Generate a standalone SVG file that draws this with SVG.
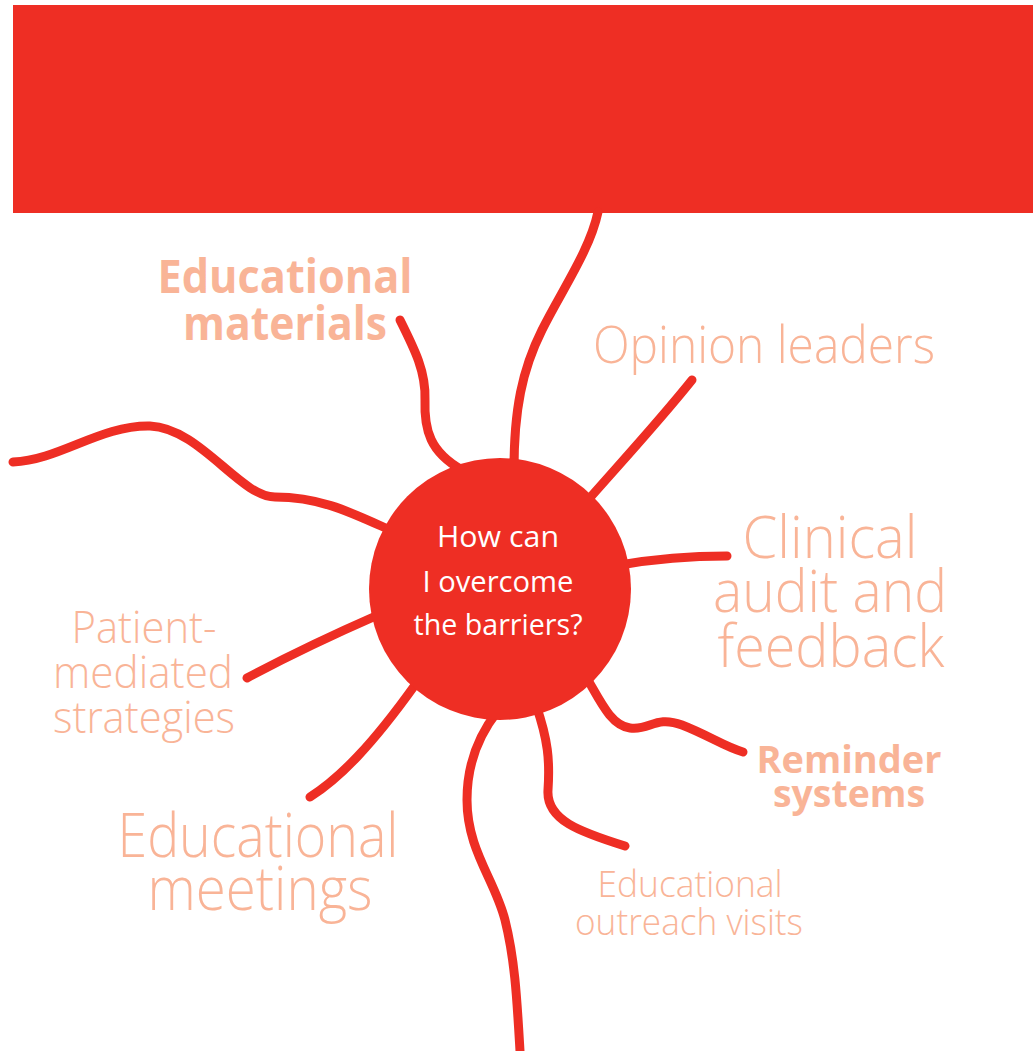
<svg xmlns="http://www.w3.org/2000/svg" width="1033" height="1051" viewBox="0 0 1033 1051">
<style>
.ln{fill:none;stroke:#EE2E24;stroke-width:9;stroke-linecap:round;stroke-linejoin:round}
.lbl{font-family:"Open Sans","Liberation Sans",sans-serif;font-weight:300;fill:#F9B497;text-anchor:middle}
.bold{font-weight:700}
.ctr{font-family:"Open Sans","Liberation Sans",sans-serif;font-weight:400;fill:#FFFFFF;text-anchor:middle;font-size:30px}
</style>
<rect width="1033" height="1051" fill="#FFFFFF"/>
<rect id="banner" x="13" y="5" width="1020" height="208" fill="#EE2E24"/>
<g id="connectors">
<path class="ln" d="M598,212 C590,250 562,290 542,330 C522,370 514,410 514,470"/>
<path class="ln" d="M400,320 C415,350 426,372 425,400 C424,430 430,452 462,470"/>
<path class="ln" d="M13,462 C60,460 100,425 150,426 C200,428 240,497 275,497 C320,497 350,512 390,530"/>
<path class="ln" d="M692,380 C660,420 625,458 588,500"/>
<path class="ln" d="M620,565 C660,558 690,556 727,556"/>
<path class="ln" d="M585,675 C600,700 610,725 630,728 C650,731 655,715 682,725 C708,735 725,747 743,752"/>
<path class="ln" d="M536,705 C548,740 550,760 548,790 C546,820 580,832 625,846"/>
<path class="ln" d="M497,712 C475,740 467,770 467,800 C467,850 495,880 505,920 C515,960 517,1000 520,1051"/>
<path class="ln" d="M310,797 C340,778 372,745 415,685"/>
<path class="ln" d="M247,678 C290,655 330,636 378,615"/>
</g>
<g id="center">
<circle cx="500" cy="589" r="131" fill="#EE2E24"/>
<text class="ctr" x="498" y="547" textLength="122" lengthAdjust="spacingAndGlyphs">How can</text>
<text class="ctr" x="498" y="592" textLength="151" lengthAdjust="spacingAndGlyphs">I overcome</text>
<text class="ctr" x="498" y="635" textLength="169" lengthAdjust="spacingAndGlyphs">the barriers?</text>
</g>
<g id="educational-materials">
<text class="lbl bold" font-size="47" x="285" y="293" textLength="255" lengthAdjust="spacingAndGlyphs" fill="#F9B89E">Educational</text>
<text class="lbl bold" font-size="47" x="285" y="340" textLength="204" lengthAdjust="spacingAndGlyphs" fill="#F9B89E">materials</text>
</g>
<g id="opinion-leaders">
<text class="lbl" font-size="52" x="764" y="363" textLength="342" lengthAdjust="spacingAndGlyphs" fill="#F9A98A">Opinion leaders</text>
</g>
<g id="clinical-audit">
<text class="lbl" font-size="58" x="830" y="558" textLength="175" lengthAdjust="spacingAndGlyphs">Clinical</text>
<text class="lbl" font-size="58" x="830" y="612" textLength="234" lengthAdjust="spacingAndGlyphs">audit and</text>
<text class="lbl" font-size="58" x="831" y="667" textLength="227" lengthAdjust="spacingAndGlyphs">feedback</text>
</g>
<g id="reminder-systems">
<text class="lbl bold" font-size="37" x="849" y="773" textLength="185" lengthAdjust="spacingAndGlyphs" fill="#F69675">Reminder</text>
<text class="lbl bold" font-size="37" x="849" y="807" textLength="152" lengthAdjust="spacingAndGlyphs" fill="#F69675">systems</text>
</g>
<g id="patient-mediated">
<text class="lbl" font-size="44" x="144" y="643" textLength="145" lengthAdjust="spacingAndGlyphs">Patient-</text>
<text class="lbl" font-size="44" x="143" y="688" textLength="180" lengthAdjust="spacingAndGlyphs">mediated</text>
<text class="lbl" font-size="44" x="144" y="733" textLength="182" lengthAdjust="spacingAndGlyphs">strategies</text>
</g>
<g id="educational-meetings">
<text class="lbl" font-size="61" x="258" y="857" textLength="281" lengthAdjust="spacingAndGlyphs" fill="#FBC3AC">Educational</text>
<text class="lbl" font-size="61" x="260" y="910" textLength="225" lengthAdjust="spacingAndGlyphs" fill="#FBC3AC">meetings</text>
</g>
<g id="educational-outreach">
<text class="lbl" font-size="37" x="690" y="897" textLength="185" lengthAdjust="spacingAndGlyphs" fill="#FBBDA4">Educational</text>
<text class="lbl" font-size="37" x="689" y="935" textLength="228" lengthAdjust="spacingAndGlyphs" fill="#FBBDA4">outreach visits</text>
</g>
</svg>
